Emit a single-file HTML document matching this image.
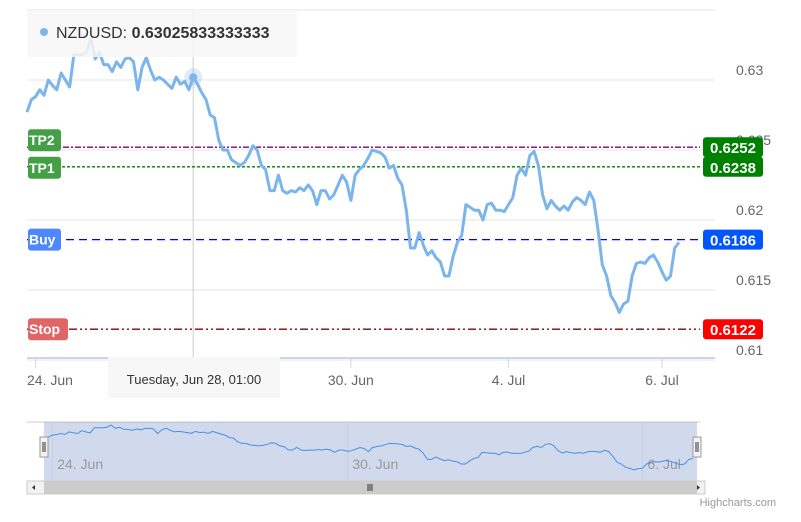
<!DOCTYPE html>
<html><head><meta charset="utf-8"><style>
body{margin:0;background:#fff;font-family:"Liberation Sans",sans-serif}
svg text{font-family:"Liberation Sans",sans-serif}
</style></head><body>
<svg id="c" width="801" height="517" xmlns="http://www.w3.org/2000/svg">
<rect width="801" height="517" fill="#fff"/>
<g id="grid"></g><g id="plotlines"></g><g id="series"></g><g id="nav"></g><g id="ui"></g>
</svg>
<script>
const seriesName = "NZDUSD";
const tooltipValue = "0.63025833333333";
const pips = [6277,6286,6288,6293,6289,6300,6296,6293,6305,6300,6295,6318,6318,6318,6320,6330,6315,6320,6311,6311,6306,6313,6309,6315,6316,6313,6293,6309,6316,6307,6300,6302,6300,6297,6294,6302,6297,6299,6293,6302,6297,6291,6286,6275,6273,6257,6250,6250,6243,6241,6239,6241,6246,6253,6250,6239,6236,6221,6221,6232,6221,6219,6221,6220,6223,6221,6225,6221,6211,6221,6221,6215,6218,6225,6232,6227,6214,6232,6236,6239,6244,6250,6249,6248,6245,6237,6239,6230,6225,6207,6180,6180,6191,6182,6175,6178,6173,6170,6160,6160,6174,6184,6189,6211,6209,6207,6207,6200,6211,6212,6207,6207,6206,6211,6216,6232,6237,6232,6246,6249,6239,6218,6208,6214,6210,6207,6210,6207,6213,6216,6214,6211,6220,6214,6193,6168,6160,6146,6141,6134,6140,6142,6160,6169,6170,6169,6173,6175,6170,6163,6157,6160,6180,6184];
const yTicks = [0.63,0.625,0.62,0.615,0.61];
const yTickLabels = ["0.63","0.625","0.62","0.615","0.61"];
const xTickLabels = ["24. Jun","28. Jun","30. Jun","4. Jul","6. Jul"];
const xTickIdx = [2,39,76,113,149];
const levelNames = ["TP2","TP1","Buy","Stop"];
const levelValues = [0.6252,0.6238,0.6186,0.6122];
const navLabels = ["24. Jun","30. Jun","6. Jul"];
const navLabelIdx = [1,71,141];
const hoverIdx = 39;

const NS="http://www.w3.org/2000/svg";
function el(t,a,p){const e=document.createElementNS(NS,t);for(const k in a)e.setAttribute(k,a[k]);p.appendChild(e);return e;}
const X0=27,X1=679,N=pips.length;
const xS=i=>X0+(X1-X0)*i/(N-1);
const yS=v=>80+(0.63-v)*14000;
const nav0=44,nav1=697;
const nxS=i=>nav0+4+(nav1-nav0-8)*i/(N-1);
const pmin=Math.min(...pips),pmax=Math.max(...pips);
const nyS=p=>470-(p-pmin)/(pmax-pmin)*45;
const grid=document.getElementById('grid'),pl=document.getElementById('plotlines'),se=document.getElementById('series'),nav=document.getElementById('nav'),ui=document.getElementById('ui');

let ln=el('line',{x1:27,x2:715,y1:10,y2:10,stroke:'#e6e6e6'},grid);

yTicks.forEach((v,k)=>{
  const y=yS(v);
  const g=el('line',{x1:27,x2:715,y1:y,y2:y,stroke:'#e6e6e6'},grid);
  
  const t=el('text',{x:736,y:y-5,'font-size':14,fill:'#666'},grid);t.textContent=yTickLabels[k];
  
});
ln=el('line',{x1:27,x2:715,y1:358,y2:358,stroke:'#ccd6eb','stroke-width':2},grid);

xTickIdx.forEach((ix,k)=>{
  const x=xS(ix);
  const tk=el('line',{x1:x,x2:x,y1:358,y2:368,stroke:'#ccd6eb'},grid);
  
  const t=el('text',k==0?{x:27,y:385,'font-size':14,fill:'#666'}:{x:x,y:385,'font-size':14,fill:'#666','text-anchor':'middle'},grid);t.textContent=xTickLabels[k];
  
});
const cx=xS(hoverIdx);
ln=el('line',{x1:cx,x2:cx,y1:10,y2:358,stroke:'#ccc'},grid);


const lvlStroke=['#800080','#008000','#0000ff','#8b0000'];
const lvlDash=['6,2,2,2','3,2','8,5','8,3,2,3,2,3'];
const leftBg=['#43a047','#43a047','#4d88ff','#e06666'];
const rightBg=['#008000','#008000','#0055ff','#ff0000'];
levelValues.forEach((v,k)=>{
  const y=yS(v);
  const l=el('line',{x1:27,x2:700,y1:y,y2:y,stroke:lvlStroke[k],'stroke-dasharray':lvlDash[k],'stroke-width':1.3},pl);
  
});
let d=pips.map((p,i)=>(i?'L':'M')+xS(i).toFixed(1)+','+yS(p/10000).toFixed(1)).join(' ');
let path=el('path',{d:d,fill:'none',stroke:'#7cb5ec','stroke-width':3,'stroke-linejoin':'round'},se);

const hy=yS(pips[hoverIdx]/10000);
let h=el('circle',{cx:cx,cy:hy,r:9,fill:'#7cb5ec','fill-opacity':0.25},se);

h=el('circle',{cx:cx,cy:hy,r:4,fill:'#7cb5ec'},se);

levelValues.forEach((v,k)=>{
  const y=yS(v);
  const ly=k==0?y-7:k==1?y+1:y;
  const w=k==3?40:33;
  const r=el('rect',{x:28,y:ly-11,width:w,height:22,rx:3,fill:leftBg[k]},ui);
  
  const t=el('text',{x:29,y:ly+5,'font-size':14,'font-weight':'bold',fill:'#fff'},ui);t.textContent=levelNames[k];
  
  const r2=el('rect',{x:703,y:y-10,width:60,height:20,rx:3,fill:rightBg[k]},ui);
  
  const t2=el('text',{x:733,y:y+6,'font-size':15,'font-weight':'bold',fill:'#fff','text-anchor':'middle'},ui);t2.textContent=v.toFixed(4);
  
});
let tb=el('rect',{x:27,y:10,width:270,height:47,fill:'#f7f7f7','fill-opacity':0.85},ui);

let dot=el('circle',{cx:44,cy:32,r:4,fill:'#7cb5ec'},ui);

let tt=el('text',{x:56,y:38,'font-size':16,fill:'#333'},ui);

const s1=el('tspan',{},tt);s1.textContent=seriesName+': ';
const s2=el('tspan',{'font-weight':'bold'},tt);s2.textContent=tooltipValue;
let xb=el('rect',{x:108,y:357,width:172,height:41,fill:'#f7f7f7'},ui);

let xt=el('text',{x:194,y:384,'font-size':13,fill:'#333','text-anchor':'middle'},ui);xt.textContent='Tuesday, Jun 28, 01:00';

let nb=el('line',{x1:27,x2:700,y1:422,y2:422,stroke:'#ccc'},nav);

let mask=el('rect',{x:nav0,y:422,width:nav1-nav0,height:59,fill:'rgba(102,133,194,0.3)'},nav);

navLabelIdx.forEach((ix,k)=>{
  const x=nxS(ix);
  const g=el('line',{x1:x,x2:x,y1:422,y2:481,stroke:'#c8cfdf'},nav);
  
  const t=el('text',{x:x+5,y:469,'font-size':14,fill:'#999'},nav);t.textContent=navLabels[k];
  
});
d=pips.map((p,i)=>(i?'L':'M')+nxS(i).toFixed(1)+','+nyS(p).toFixed(1)).join(' ');
let np=el('path',{d:d,fill:'none',stroke:'#4a90e2','stroke-width':1},nav);

[nav0,nav1].forEach((x,k)=>{
  const r=el('rect',{x:x-4,y:437,width:8,height:20,fill:'#f2f2f2',stroke:'#999'},nav);
  
  el('line',{x1:x-1,x2:x-1,y1:442,y2:452,stroke:'#333'},nav);el('line',{x1:x+1,x2:x+1,y1:442,y2:452,stroke:'#333'},nav);
});
let sb=el('rect',{x:27,y:481,width:678,height:13,fill:'#f2f2f2',stroke:'#ccc'},nav);

let th=el('rect',{x:44,y:481,width:653,height:13,fill:'#ccc'},nav);

['M35,485 L32,487.5 L35,490Z','M697,485 L700,487.5 L697,490Z'].forEach((p,k)=>{
  const a=el('path',{d:p,fill:'#333'},nav);
  
});
[-2,0,2].forEach(o=>el('line',{x1:370+o,x2:370+o,y1:484,y2:491,stroke:'#333'},nav));
let cr=el('text',{x:776,y:506,'font-size':11,fill:'#999','text-anchor':'end'},nav);cr.textContent='Highcharts.com';

</script>
</body></html>
